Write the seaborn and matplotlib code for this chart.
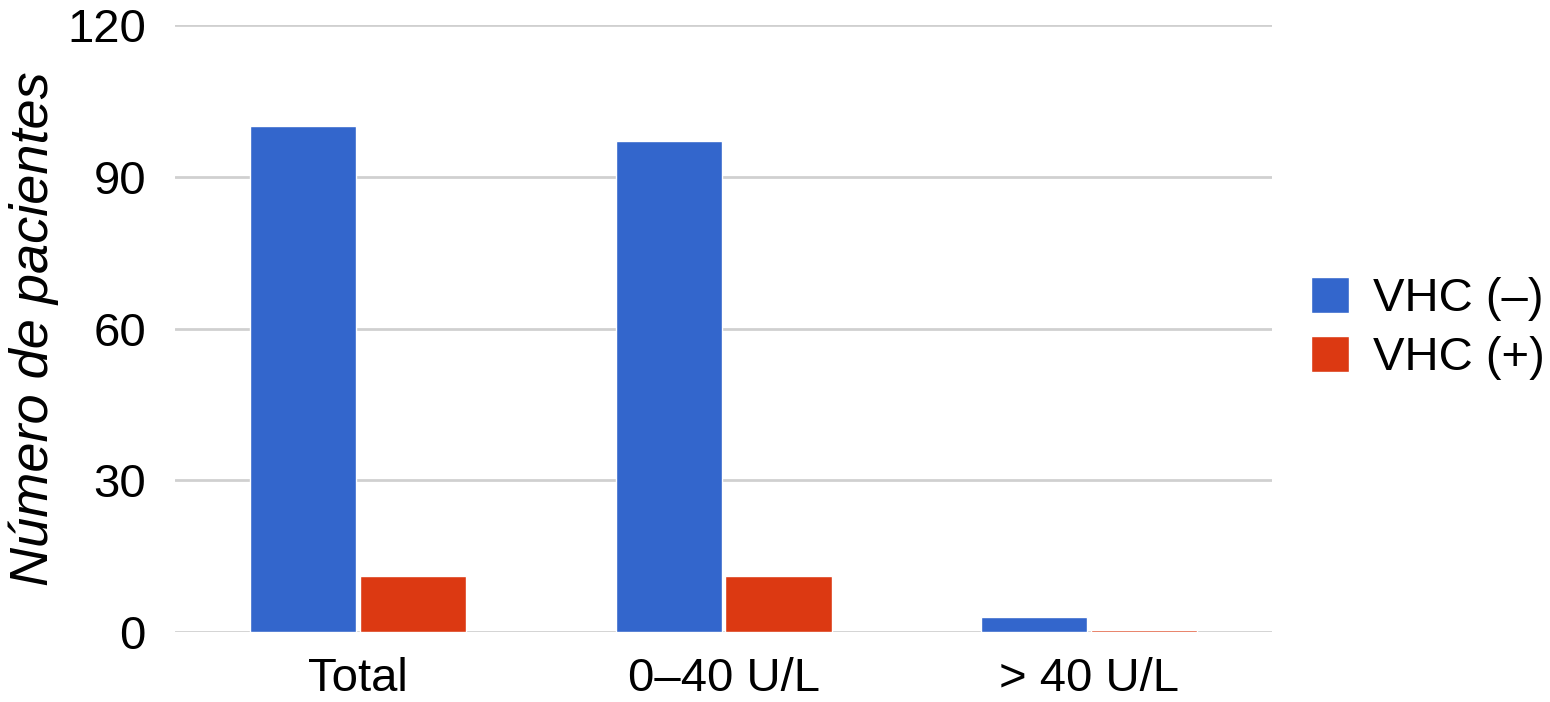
import pandas as pd
import matplotlib.pyplot as plt
import seaborn as sns

# values
categories = ['Total', '0–40 U/L', '> 40 U/L']
series_names = ['VHC (–)', 'VHC (+)']
vhc_neg = [100, 97, 3]
vhc_pos = [11, 11, 0.3]
colors = ['#3366CC', '#DC3912']
y_ticks = [0, 30, 60, 90, 120]

def build_frame():
    rows = []
    for cat, n, p in zip(categories, vhc_neg, vhc_pos):
        rows.append({'Grupo': cat, 'Serie': series_names[0], 'Pacientes': n})
        rows.append({'Grupo': cat, 'Serie': series_names[1], 'Pacientes': p})
    return pd.DataFrame(rows)

def main():
    df = build_frame()
    sns.set_style('white')
    plt.rcParams['font.family'] = ['Liberation Sans', 'DejaVu Sans']
    plt.rcParams['text.color'] = 'black'

    fig = plt.figure(figsize=(15.5, 7.02), dpi=100)
    ax = fig.add_axes([0.113, 0.0997, 0.7076, 0.8647])

    sns.barplot(data=df, x='Grupo', y='Pacientes', hue='Serie', order=categories,
                hue_order=series_names, palette=colors, width=0.6, gap=0.03,
                saturation=1, ax=ax, zorder=3)

    ax.set_ylim(0, 120)
    ax.set_xlim(-0.5, 2.5)
    ax.set_yticks(y_ticks)
    ax.yaxis.grid(True, color='#d0d0d0', linewidth=2, zorder=0)
    ax.set_axisbelow(True)
    for s in ax.spines.values():
        s.set_visible(False)
    ax.tick_params(axis='y', length=0, labelsize=34, colors='black', pad=21)
    ax.tick_params(axis='x', length=0, labelsize=34, colors='black', pad=18)
    ax.set_xlabel('')
    ax.set_ylabel('Número de pacientes', fontsize=39, style='italic', color='black')
    ax.yaxis.set_label_coords(-0.106, 0.5)

    ax.legend(loc='center left', bbox_to_anchor=(1.036, 0.5), frameon=False,
              fontsize=34, handlelength=0.8, handleheight=0.8, handletextpad=0.5,
              labelspacing=0.3, borderpad=0, borderaxespad=0)

    fig.savefig('out.png', dpi=100)

if __name__ == "__main__":
    main()
